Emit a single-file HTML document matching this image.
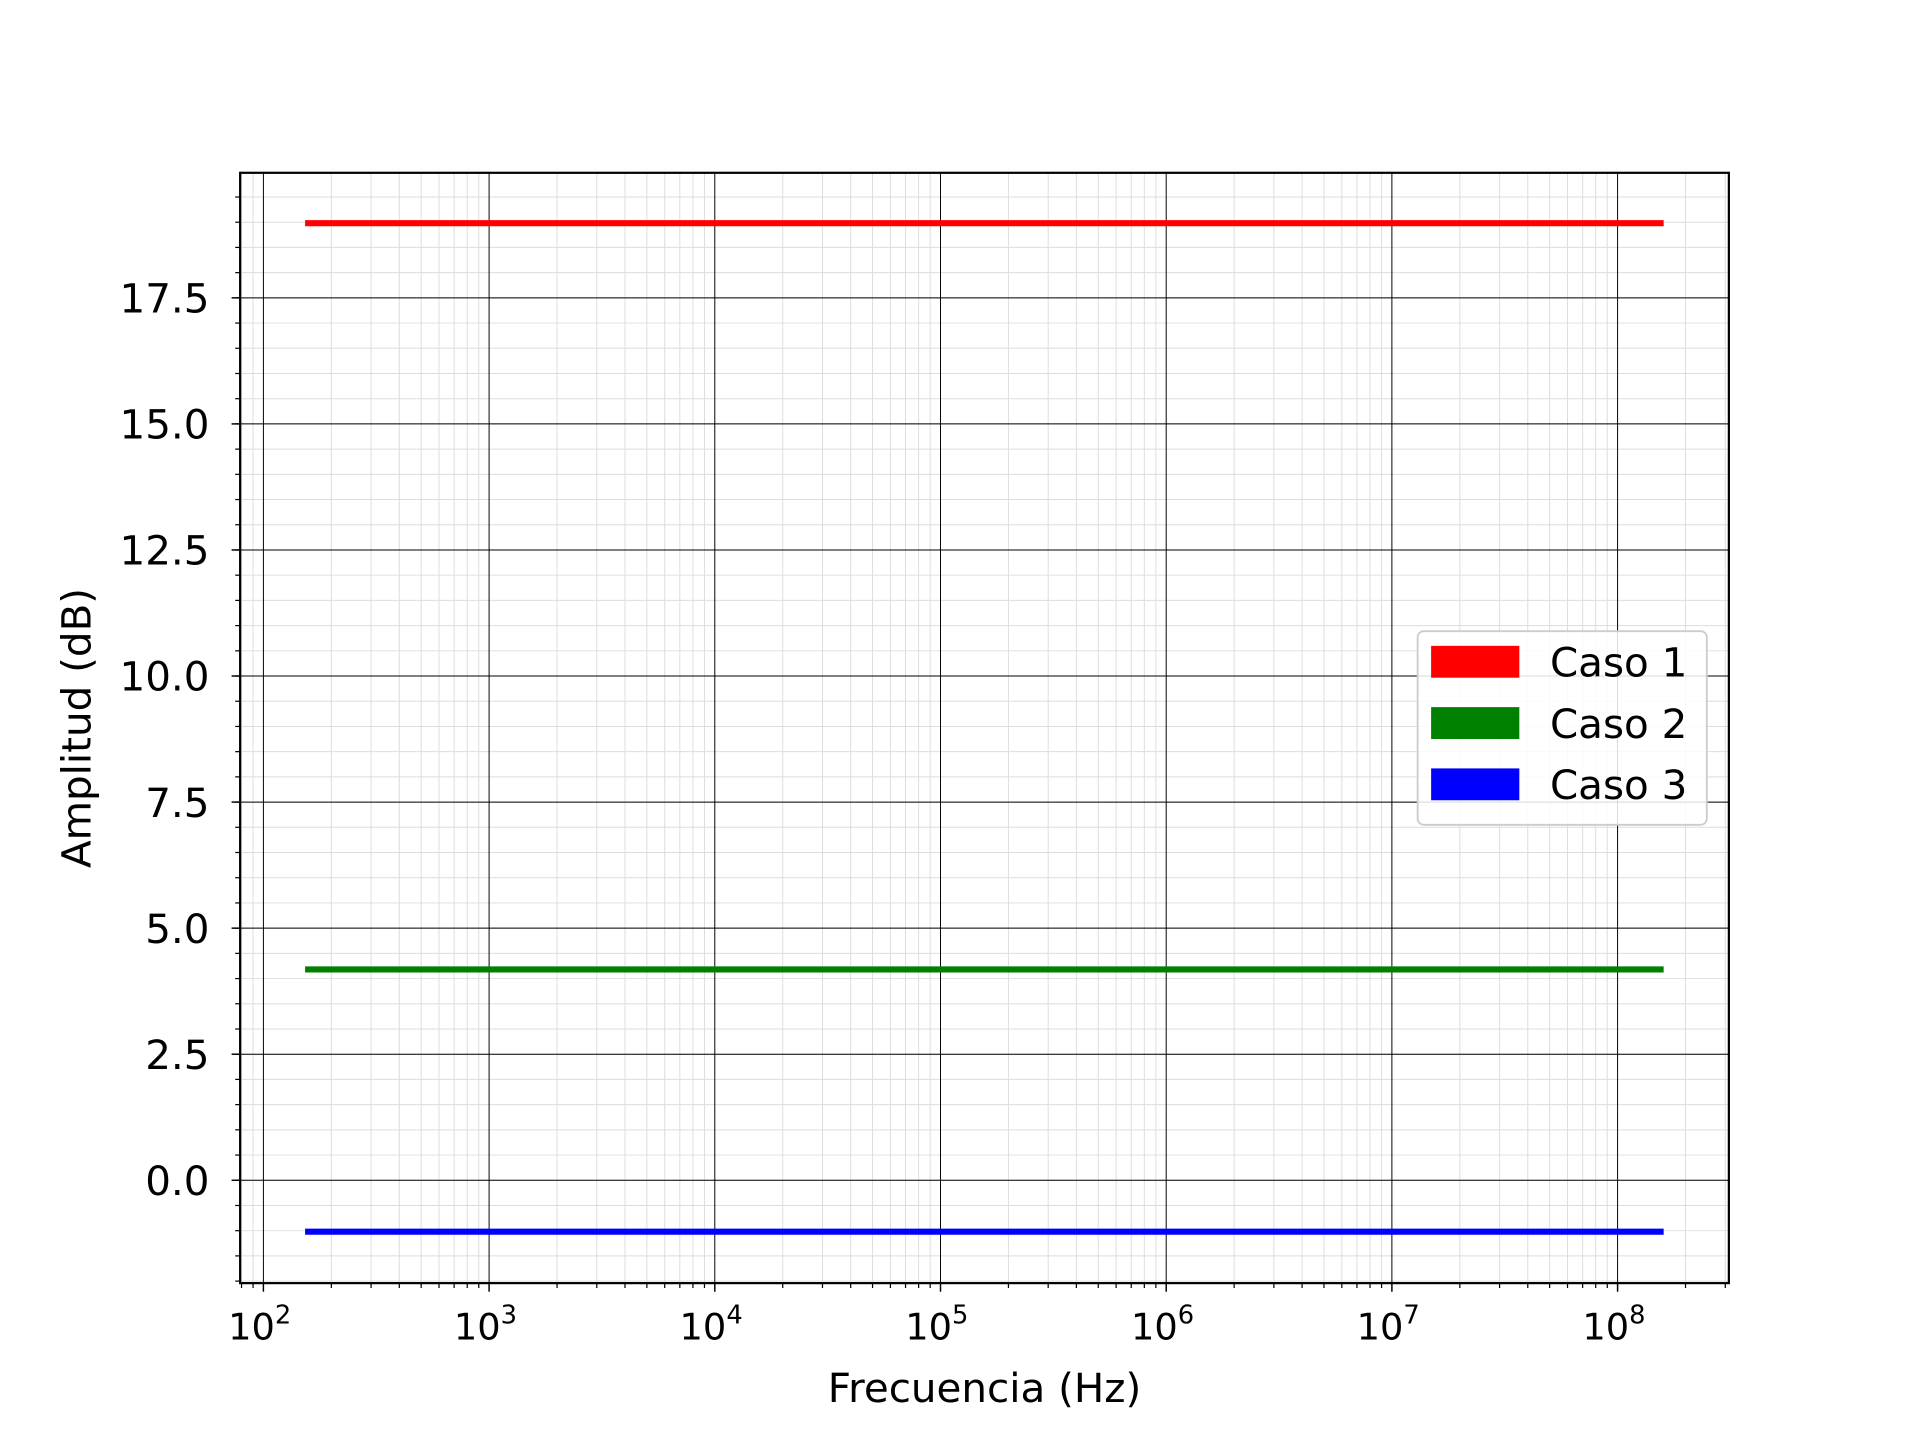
<!DOCTYPE html>
<html><head><meta charset="utf-8"><style>html,body{margin:0;padding:0;background:#fff}svg{display:block}text{font-family:"DejaVu Sans","Liberation Sans",sans-serif;fill:#000}</style></head>
<body>
<svg id="chart" width="1920" height="1440" viewBox="0 0 1567 1175" preserveAspectRatio="none" xmlns="http://www.w3.org/2000/svg">
<rect width="1567" height="1175" fill="#fff"/>
<g id="grid"></g>
<g id="series"></g>
<g id="axes"></g>
<g id="legend"></g>
</svg>
<script>
const seriesNames = ["Caso 1","Caso 2","Caso 3"];
const seriesColors = ["#ff0000","#008000","#0000ff"];
const seriesValues = [18.98, 4.18, -1.02];
const freqRange = [153, 1.6e8];
const yTicks = [0.0, 2.5, 5.0, 7.5, 10.0, 12.5, 15.0, 17.5];
const xDecades = [2,3,4,5,6,7,8];

const L=196,R=1411,T=141,B=1047;
const xMin=1.897,xMax=8.493,yMin=-2.04,yMax=19.98;
const X=v=>L+(Math.log10(v)-xMin)/(xMax-xMin)*(R-L);
const Y=v=>B-(v-yMin)/(yMax-yMin)*(B-T);
const NS="http://www.w3.org/2000/svg";
function mk(tag,attrs,parent,txt){const e=document.createElementNS(NS,tag);for(const k in attrs)e.setAttribute(k,attrs[k]);if(txt!==undefined)e.textContent=txt;parent.appendChild(e);return e;}
const grid=document.getElementById('grid'),axes=document.getElementById('axes'),ser=document.getElementById('series'),leg=document.getElementById('legend');

for(let d=1;d<=8;d++)for(let m=2;m<=9;m++){const v=m*Math.pow(10,d);const x=X(v);if(x<L||x>R)continue;
 const g=mk('line',{x1:x,x2:x,y1:T,y2:B,stroke:'#ddd','stroke-width':0.8},grid);
 
 const t=mk('line',{x1:x,x2:x,y1:B,y2:B+4,stroke:'#000','stroke-width':1},axes);
 }
for(let v=-2;v<=19.9;v+=0.5){const y=Y(v);if(y<T||y>B)continue;
 const g=mk('line',{x1:L,x2:R,y1:y,y2:y,stroke:'#ddd','stroke-width':0.8},grid);
 
 const t=mk('line',{x1:L-4,x2:L,y1:y,y2:y,stroke:'#000','stroke-width':1},axes);
 }
xDecades.forEach(d=>{const x=X(Math.pow(10,d));
 const g=mk('line',{x1:x,x2:x,y1:T,y2:B,stroke:'#000','stroke-width':0.8},grid);
 
 const t=mk('line',{x1:x,x2:x,y1:B,y2:B+7,stroke:'#000','stroke-width':1.2},axes);
 
 const tx=mk('text',{x:x-3,y:B+46,'font-size':30,'text-anchor':'middle'},axes);
 
 mk('tspan',{},tx,'10');mk('tspan',{dy:-13,'font-size':21},tx,String(d));});
yTicks.forEach(v=>{const y=Y(v);
 const g=mk('line',{x1:L,x2:R,y1:y,y2:y,stroke:'#000','stroke-width':0.8},grid);
 
 const t=mk('line',{x1:L-7,x2:L,y1:y,y2:y,stroke:'#000','stroke-width':1.2},axes);
 
 const tx=mk('text',{x:L-25,y:y+12,'font-size':33,'text-anchor':'end'},axes,v.toFixed(1));
 });
const fr=mk('rect',{x:L,y:T,width:R-L,height:B-T,fill:'none',stroke:'#000','stroke-width':1.8},axes);

const xl=mk('text',{x:(L+R)/2,y:1144,'font-size':33,'text-anchor':'middle'},axes,'Frecuencia (Hz)');

const yl=mk('text',{x:0,y:0,'font-size':33,'text-anchor':'middle',transform:'translate(74,594) rotate(-90)'},axes,'Amplitud (dB)');

seriesValues.forEach((v,i)=>{const l=mk('line',{x1:X(freqRange[0]),x2:X(freqRange[1]),y1:Y(v),y2:Y(v),stroke:seriesColors[i],'stroke-width':5},ser);
 });
const lb=mk('rect',{x:1157,y:515,width:236,height:158,rx:5,fill:'#fff','fill-opacity':0.85,stroke:'#ccc','stroke-width':1.5},leg);

seriesNames.forEach((n,i)=>{const y=540+i*50;
 const p=mk('rect',{x:1168,y:y-13,width:72,height:26,fill:seriesColors[i]},leg);
 
 const t=mk('text',{x:1265,y:y+12,'font-size':33},leg,n);
 });
</script>
</body></html>
